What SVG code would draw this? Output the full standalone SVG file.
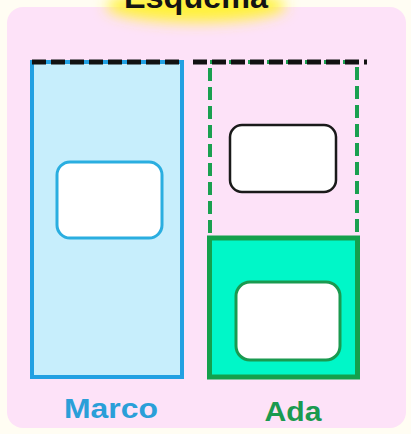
<svg xmlns="http://www.w3.org/2000/svg" width="411" height="434" viewBox="0 0 411 434">
  <defs>
    <filter id="glow" x="-30%" y="-100%" width="160%" height="300%">
      <feGaussianBlur stdDeviation="7"/>
    </filter>
    <style>
      .lbl { font-family: "Liberation Sans", "DejaVu Sans", sans-serif; font-weight: bold; text-anchor: middle; }
      .inner { fill: #ffffff; }
      .dash-black { stroke: #111111; stroke-width: 5; stroke-dasharray: 14 5; fill: none; }
    </style>
  </defs>
  <rect x="0" y="0" width="411" height="434" fill="#fffdf3"/>
  <rect x="7" y="7" width="399" height="421" rx="16" fill="#fde2f8"/>

  <g id="title">
    <ellipse cx="196" cy="6" rx="90" ry="16" fill="#fff23a" filter="url(#glow)"/>
    <text class="lbl" x="196" y="8" font-size="31" fill="#141414" textLength="144" lengthAdjust="spacingAndGlyphs">Esquema</text>
  </g>

  <g id="marco">
    <rect x="32" y="62" width="150" height="315" fill="#c7eefc" stroke="#22a0e2" stroke-width="4"/>
    <rect x="57" y="162" width="105" height="76" rx="13" class="inner" stroke="#2aaee0" stroke-width="3"/>
    <text class="lbl" x="111" y="418" font-size="28" fill="#2a9fd8" textLength="94" lengthAdjust="spacingAndGlyphs">Marco</text>
  </g>

  <g id="ada">
    <rect x="210" y="62" width="147" height="176" fill="none" stroke="#1aa050" stroke-width="4" stroke-dasharray="13 6"/>
    <rect x="209.5" y="238" width="148" height="139" fill="#00f7c8" stroke="#14a04c" stroke-width="5"/>
    <rect x="230" y="125" width="106" height="67" rx="12" class="inner" stroke="#1a1a1a" stroke-width="2.5"/>
    <rect x="236" y="282" width="104" height="78" rx="14" class="inner" stroke="#1a9a50" stroke-width="3"/>
    <text class="lbl" x="293" y="421" font-size="28" fill="#1a9a50" textLength="57" lengthAdjust="spacingAndGlyphs">Ada</text>
  </g>

  <g id="connectors">
    <line x1="32" y1="62" x2="184" y2="62" class="dash-black"/>
    <line x1="193" y1="62" x2="367" y2="62" class="dash-black"/>
  </g>
</svg>
